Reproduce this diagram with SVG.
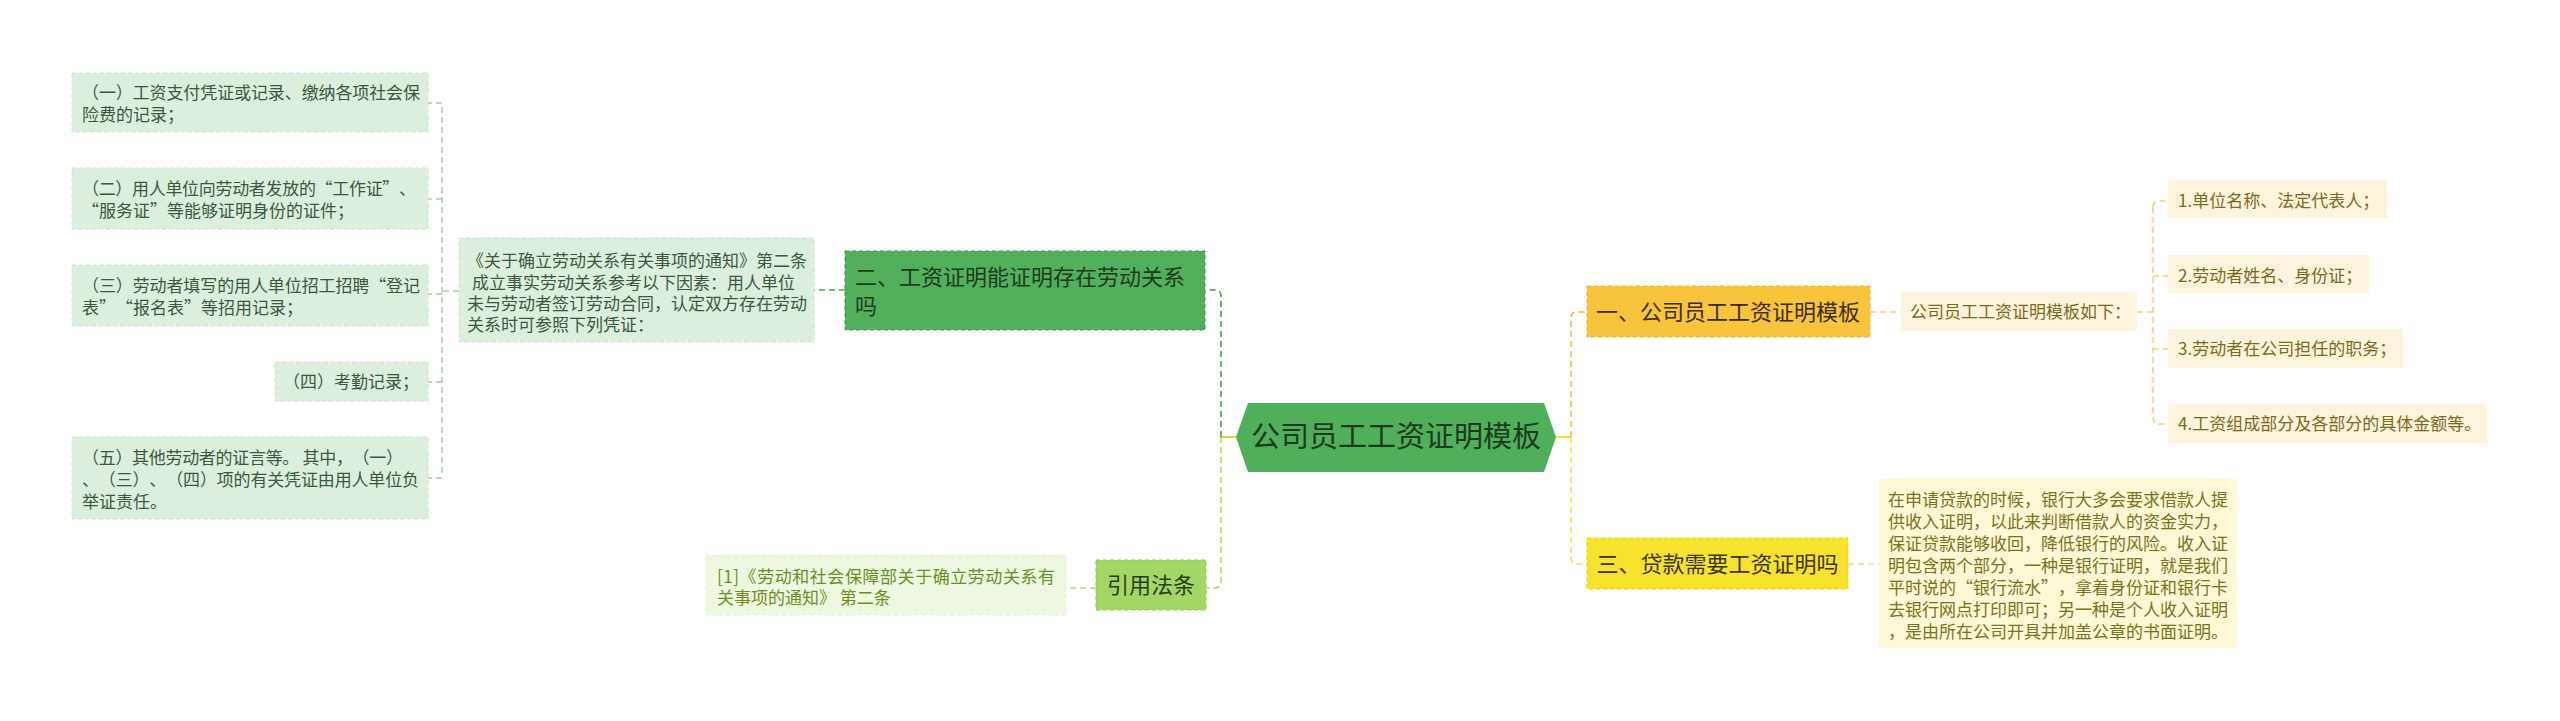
<svg xmlns="http://www.w3.org/2000/svg" width="2560" height="721" viewBox="0 0 2560 721">
<style>
text{font-family:"Noto Sans CJK SC","Noto Sans",sans-serif;text-spacing-trim:space-all;}
.p17{font-size:17px;}
.p16{font-size:17px;}
.t22{font-size:22px;}
.lc{fill:#dcefdf;stroke:#cbe3cf;stroke-width:1;stroke-dasharray:4 3;}
.lct{fill:#3b5a3d;}
.cn{fill:none;stroke-width:1.5;stroke-dasharray:6 4;}
</style>
<rect width="2560" height="721" fill="#ffffff"/>
<g id="connectors">
  <path d="M1236 437 H1221" fill="none" stroke="#c8e04a" stroke-width="2"/>
  <path d="M1556 437 H1571" fill="none" stroke="#f3e03c" stroke-width="2"/>
  <path class="cn" d="M1221 437 V296 Q1221 290 1215 290 H1205" stroke="#3f9a4a"/>
  <path class="cn" d="M1221 437 V582 Q1221 588 1215 588 H1206" stroke="#a9d65c"/>
  <path class="cn" d="M1571 437 V318 Q1571 312 1577 312 H1587" stroke="#f0b935"/>
  <path class="cn" d="M1571 437 V558 Q1571 564 1577 564 H1587" stroke="#f2e04a"/>
  <path class="cn" d="M845 290 H814" stroke="#4caf50"/>
  <path class="cn" d="M459 291 H442" stroke="#a9cfab"/>
  <path class="cn" d="M442 107 V474" stroke="#a9cfab"/>
  <path class="cn" d="M442 103 H428 M442 199 H428 M442 294 H428 M442 382 H428 M442 478 H428" stroke="#a9cfab"/>
  <path class="cn" d="M1096 588 H1066" stroke="#b6dc7a"/>
  <path class="cn" d="M1870 312 H1901" stroke="#f3d27a"/>
  <path class="cn" d="M2137 312 H2153" stroke="#f3d27a"/>
  <path class="cn" d="M2153 207 Q2153 201 2159 201 H2169 M2153 207 V418 Q2153 424 2159 424 H2169 M2153 276 H2169 M2153 349 H2169" stroke="#f3d27a"/>
  <path class="cn" d="M1848 564 H1879" stroke="#f0e27a"/>
</g>
<g id="center">
  <polygon points="1236,437 1248,403 1544,403 1556,437 1544,472 1248,472" fill="#4faf5a"/>
  <text x="1396" y="447" text-anchor="middle" style="font-size:29px" fill="#1d3a1f">公司员工工资证明模板</text>
</g>
<g id="n-er">
  <rect x="845" y="251" width="360" height="79" fill="#52af5c" stroke="#3f944a" stroke-dasharray="4 3"/>
  <text class="t22" fill="#1e3b20"><tspan x="855" y="285">二、工资证明能证明存在劳动关系</tspan><tspan x="855" y="314">吗</tspan></text>
</g>
<g id="n-er-desc">
  <rect x="459" y="238" width="355" height="104" fill="#dcefdf" stroke="#cbe3cf" stroke-dasharray="4 3"/>
  <text class="p17 lct"><tspan x="467" y="267">《关于确立劳动关系有关事项的通知》第二条</tspan><tspan x="472" y="289">成立事实劳动关系参考以下因素：用人单位</tspan><tspan x="467" y="310">未与劳动者签订劳动合同，认定双方存在劳动</tspan><tspan x="467" y="331">关系时可参照下列凭证：</tspan></text>
</g>
<g id="n-l1">
  <rect class="lc" x="72" y="73" width="356" height="59"/>
  <text class="p17 lct" x="82" y="99" textLength="338">（一）工资支付凭证或记录、缴纳各项社会保</text>
  <text class="p17 lct" x="82" y="121">险费的记录；</text>
</g>
<g id="n-l2">
  <rect class="lc" x="72" y="168" width="356" height="61"/>
  <text class="p17 lct" x="82" y="195" textLength="334">（二）用人单位向劳动者发放的“工作证”、</text>
  <text class="p17 lct" x="82" y="217">“服务证”等能够证明身份的证件；</text>
</g>
<g id="n-l3">
  <rect class="lc" x="72" y="265" width="356" height="61"/>
  <text class="p17 lct" x="82" y="292" textLength="338">（三）劳动者填写的用人单位招工招聘“登记</text>
  <text class="p17 lct" x="82" y="314">表”“报名表”等招用记录；</text>
</g>
<g id="n-l4">
  <rect class="lc" x="275" y="362" width="153" height="39"/>
  <text class="p17 lct" x="283" y="388">（四）考勤记录；</text>
</g>
<g id="n-l5">
  <rect class="lc" x="72" y="437" width="356" height="82"/>
  <text class="p17 lct" x="82" y="464" textLength="321">（五）其他劳动者的证言等。 其中，（一）</text>
  <text class="p17 lct" x="82" y="486" textLength="337">、（三）、（四）项的有关凭证由用人单位负</text>
  <text class="p17 lct" x="82" y="508">举证责任。</text>
</g>
<g id="n-ref">
  <rect x="1096" y="560" width="110" height="50" fill="#a3d765" stroke="#8cc44e" stroke-dasharray="4 3"/>
  <text class="t22" x="1151" y="593" text-anchor="middle" fill="#2a3d12">引用法条</text>
</g>
<g id="n-ref-desc">
  <rect x="706" y="555" width="360" height="60" fill="#eef8e0" stroke="#e2f0cc" stroke-dasharray="4 3"/>
  <text class="p16" x="717" y="583" textLength="338" fill="#6a8f24">[1]《劳动和社会保障部关于确立劳动关系有</text>
  <text class="p16" x="717" y="604" fill="#6a8f24">关事项的通知》 第二条</text>
</g>
<g id="n-yi">
  <rect x="1587" y="286" width="283" height="51" fill="#f8c43c" stroke="#e9b02a" stroke-dasharray="4 3"/>
  <text class="t22" x="1728" y="320" text-anchor="middle" fill="#3b2e05">一、公司员工工资证明模板</text>
</g>
<g id="n-yi-desc">
  <rect x="1901" y="292" width="236" height="39" fill="#fdf4dd"/>
  <text class="p16" x="1910" y="318" fill="#7d6a1e">公司员工工资证明模板如下：</text>
</g>
<g id="n-leaf1">
  <rect x="2168" y="180" width="219" height="38" fill="#fdf4dd"/>
  <text class="p16" x="2178" y="207" fill="#7d6a1e">1.单位名称、法定代表人；</text>
</g>
<g id="n-leaf2">
  <rect x="2168" y="255" width="201" height="38" fill="#fdf4dd"/>
  <text class="p16" x="2178" y="282" fill="#7d6a1e">2.劳动者姓名、身份证；</text>
</g>
<g id="n-leaf3">
  <rect x="2168" y="329" width="235" height="39" fill="#fdf4dd"/>
  <text class="p16" x="2178" y="355" fill="#7d6a1e">3.劳动者在公司担任的职务；</text>
</g>
<g id="n-leaf4">
  <rect x="2168" y="404" width="319" height="39" fill="#fdf4dd"/>
  <text class="p16" x="2178" y="430" fill="#7d6a1e">4.工资组成部分及各部分的具体金额等。</text>
</g>
<g id="n-san">
  <rect x="1587" y="538" width="261" height="51" fill="#f7e22e" stroke="#e6cf1c" stroke-dasharray="4 3"/>
  <text class="t22" x="1717.5" y="572" text-anchor="middle" fill="#3a3504">三、贷款需要工资证明吗</text>
</g>
<g id="n-san-desc">
  <rect x="1879" y="479" width="358" height="169" fill="#fdf8d6"/>
  <text class="p17" fill="#7a7420"><tspan x="1888" y="506">在申请贷款的时候，银行大多会要求借款人提</tspan><tspan x="1888" y="528">供收入证明，以此来判断借款人的资金实力，</tspan><tspan x="1888" y="550">保证贷款能够收回，降低银行的风险。收入证</tspan><tspan x="1888" y="572">明包含两个部分，一种是银行证明，就是我们</tspan><tspan x="1888" y="594">平时说的“银行流水”，拿着身份证和银行卡</tspan><tspan x="1888" y="616">去银行网点打印即可；另一种是个人收入证明</tspan><tspan x="1888" y="638">，是由所在公司开具并加盖公章的书面证明。</tspan></text>
</g>
</svg>
